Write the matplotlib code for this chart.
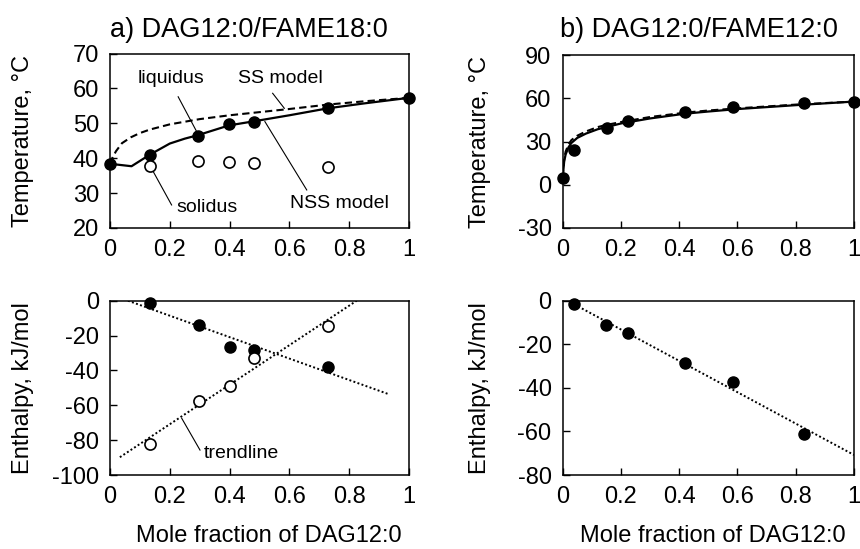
import matplotlib
matplotlib.use("Agg")
import matplotlib.pyplot as plt
from matplotlib.ticker import FuncFormatter

plt.rcParams['font.family'] = ['Liberation Sans', 'DejaVu Sans']
plt.rcParams['axes.unicode_minus'] = False

# ---- a) DAG12:0/FAME18:0 : phase diagram ----
x_liq_a = [0, 0.133, 0.294, 0.398, 0.483, 0.729, 1.0]
T_liq_a = [38.4, 41.0, 46.5, 49.7, 50.5, 54.4, 57.3]
x_sol_a = [0.133, 0.294, 0.398, 0.483, 0.729]
T_sol_a = [37.7, 39.1, 39.0, 38.7, 37.6]

# model curves
x_nss_a = [0, 0.072, 0.133, 0.2, 0.25, 0.294, 0.398, 0.483, 0.6, 0.729, 0.85, 1.0]
T_nss_a = [38.4, 37.7, 41.0, 44.2, 45.6, 46.6, 49.4, 50.6, 52.3, 54.3, 55.7, 57.3]
x_ss_a = [0, 0.005, 0.02, 0.04, 0.07, 0.1, 0.133, 0.2, 0.3, 0.4, 0.5, 0.6, 0.733, 0.85, 1.0]
T_ss_a = [38.4, 39.6, 42.0, 44.3, 46.0, 47.2, 48.2, 49.7, 51.2, 52.3, 53.2, 54.1, 55.4, 56.3, 57.3]

# ---- a) enthalpies ----
x_H_a = [0.134, 0.296, 0.401, 0.483, 0.73]
H_fill_a = [-1.4, -14.0, -26.8, -28.3, -37.9]
H_open_a = [-82.2, -57.4, -49.0, -33.1, -14.4]
trend_fill_a_x = [0.06, 0.93]
trend_fill_a_y = [0.0, -53.5]
trend_open_a_x = [0.033, 0.825]
trend_open_a_y = [-89.8, 0.0]

# ---- b) DAG12:0/FAME12:0 ----
x_T_b = [0, 0.04, 0.151, 0.225, 0.42, 0.586, 0.83, 1.0]
T_b = [5.0, 23.8, 39.5, 44.5, 50.5, 54.2, 57.0, 57.7]
x_nss_b = [0, 0.005, 0.01, 0.02, 0.03, 0.05, 0.08, 0.12, 0.15, 0.2, 0.3, 0.42, 0.5, 0.6, 0.8, 1.0]
T_nss_b = [5.0, 16.0, 21.0, 26.0, 29.0, 32.5, 35.5, 38.5, 40.0, 42.5, 46.0, 49.3, 50.8, 52.5, 55.2, 57.7]
T_ss_b = [5.0, 18.0, 23.0, 28.0, 31.0, 34.0, 37.0, 40.0, 41.5, 43.5, 47.0, 50.0, 51.5, 53.0, 55.6, 57.7]

x_H_b = [0.04, 0.15, 0.224, 0.42, 0.586, 0.83]
H_b = [-1.5, -11.3, -14.7, -28.7, -37.2, -61.2]
trend_b_x = [0.04, 1.0]
trend_b_y = [-1.7, -70.8]

W, H = 860, 549
fig = plt.figure(figsize=(W / 100, H / 100), dpi=100)


def px_axes(x0, y0, x1, y1):
    return fig.add_axes([x0 / W, 1 - y1 / H, (x1 - x0) / W, (y1 - y0) / H])


def style(ax, ylim, yticks):
    ax.set_xlim(0, 1)
    ax.set_ylim(*ylim)
    ax.set_xticks([0, 0.2, 0.4, 0.6, 0.8, 1.0])
    ax.set_yticks(yticks)
    ax.xaxis.set_major_formatter(FuncFormatter(lambda v, p: f"{v:g}"))
    ax.tick_params(direction='in', length=5, width=1.0, labelsize=17)
    ax.tick_params(axis='x', pad=8)
    ax.tick_params(axis='y', pad=8)
    for s in ax.spines.values():
        s.set_linewidth(1.1)


fill_kw = dict(ls='none', marker='o', ms=8, mfc='black', mec='black', mew=1, zorder=5, clip_on=False)
open_kw = dict(ls='none', marker='o', ms=8, mfc='white', mec='black', mew=1.2, zorder=5, clip_on=False)
lead_kw = dict(color='black', lw=0.8)
dot_kw = dict(color='black', lw=1.4, ls=(0, (1, 1.2)))

# top left
ax1 = px_axes(110, 53.5, 409, 228)
style(ax1, (20, 70), range(20, 71, 10))
ax1.plot(x_ss_a, T_ss_a, color='black', lw=1.5, ls=(0, (3.5, 2)))
ax1.plot(x_nss_a, T_nss_a, color='black', lw=1.6)
ax1.plot(x_liq_a, T_liq_a, **fill_kw)
ax1.plot(x_sol_a, T_sol_a, **open_kw)
ax1.plot([0.228, 0.29], [57.6, 47.6], **lead_kw)
ax1.plot([0.544, 0.583], [58.6, 54.3], **lead_kw)
ax1.plot([0.518, 0.658], [50.5, 30.9], **lead_kw)
ax1.plot([0.145, 0.206], [36.1, 26.6], **lead_kw)
ax1.text(0.203, 62.7, "liquidus", fontsize=14, ha='center', va='center')
ax1.text(0.569, 62.9, "SS model", fontsize=14, ha='center', va='center')
ax1.text(0.766, 27.1, "NSS model", fontsize=14, ha='center', va='center')
ax1.text(0.323, 25.9, "solidus", fontsize=14, ha='center', va='center')
ax1.set_ylabel("Temperature, °C", fontsize=17)
ax1.yaxis.set_label_coords(-0.255, 0.5)
ax1.text(0.465, 1.135, "a) DAG12:0/FAME18:0", fontsize=19.5, ha='center', va='center',
         transform=ax1.transAxes)

# top right
ax2 = px_axes(562.7, 55, 854, 228)
style(ax2, (-30, 90), range(-30, 91, 30))
ax2.plot(x_nss_b, T_ss_b, color='black', lw=1.5, ls=(0, (3.5, 2)))
ax2.plot(x_nss_b, T_nss_b, color='black', lw=1.6)
ax2.plot(x_T_b, T_b, **fill_kw)
ax2.set_ylabel("Temperature, °C", fontsize=17)
ax2.yaxis.set_label_coords(-0.245, 0.5)
ax2.text(0.468, 1.145, "b) DAG12:0/FAME12:0", fontsize=19.5, ha='center', va='center',
         transform=ax2.transAxes)

# bottom left
ax3 = px_axes(110, 300.7, 409, 475)
style(ax3, (-100, 0), range(-100, 1, 20))
ax3.plot(trend_fill_a_x, trend_fill_a_y, **dot_kw)
ax3.plot(trend_open_a_x, trend_open_a_y, **dot_kw)
ax3.plot(x_H_a, H_fill_a, **fill_kw)
ax3.plot(x_H_a, H_open_a, **open_kw)
ax3.plot([0.24, 0.301], [-67.5, -85.7], **lead_kw)
ax3.text(0.312, -87.6, "trendline", fontsize=14, ha='left', va='center')
ax3.set_ylabel("Enthalpy, kJ/mol", fontsize=17)
ax3.yaxis.set_label_coords(-0.255, 0.5)
ax3.set_xlabel("Mole fraction of DAG12:0", fontsize=17)
ax3.xaxis.set_label_coords(0.532, -0.285)

# bottom right
ax4 = px_axes(562.7, 300.7, 854, 475)
style(ax4, (-80, 0), range(-80, 1, 20))
ax4.plot(trend_b_x, trend_b_y, **dot_kw)
ax4.plot(x_H_b, H_b, **fill_kw)
ax4.set_ylabel("Enthalpy, kJ/mol", fontsize=17)
ax4.yaxis.set_label_coords(-0.245, 0.5)
ax4.set_xlabel("Mole fraction of DAG12:0", fontsize=17)
ax4.xaxis.set_label_coords(0.514, -0.285)

fig.savefig("out.png", dpi=100)
